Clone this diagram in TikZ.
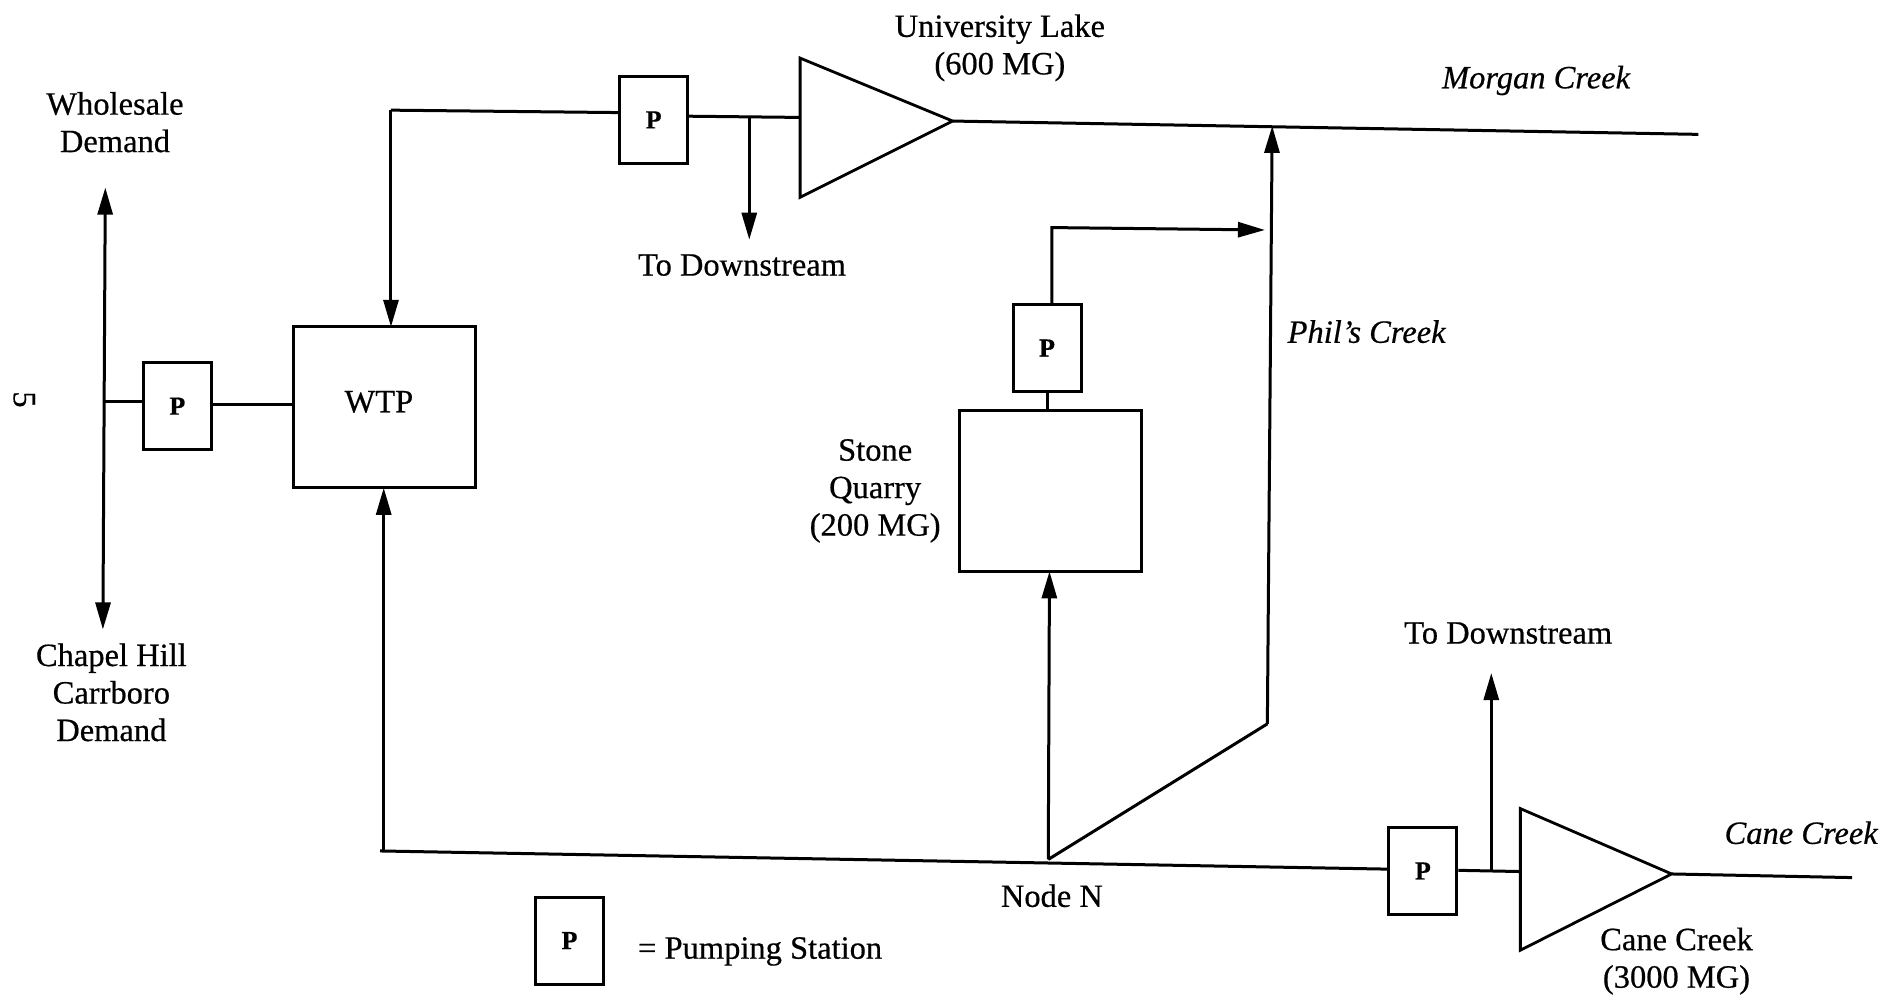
\documentclass[tikz,border=0pt]{standalone}
\usepackage{fontspec}
\setmainfont{Liberation Serif}[FakeBold=0.5]
\usetikzlibrary{arrows.meta}
\tikzset{
  every node/.style={font=\fontsize{32.5}{37.5}\selectfont, align=center, inner sep=0pt},
  ln/.style={draw=black, line width=3pt},
  arr/.style={ln, -{Triangle[length=27pt,width=15pt]}},
  darr/.style={ln, {Triangle[length=27pt,width=15pt]}-{Triangle[length=27pt,width=15pt]}},
  pump/.style={draw=black, line width=3pt, minimum width=68pt, minimum height=87pt, font=\fontsize{26}{30}\selectfont\bfseries},
  bigbox/.style={draw=black, line width=3pt, minimum width=182pt, minimum height=161pt},
  res/.style={draw=black, line width=2.8pt, line join=miter},
  creek/.style={font=\fontsize{32.5}{37.5}\selectfont\itshape}
}
\begin{document}
\begin{tikzpicture}[x=1.2105pt,y=-1.2105pt]
\useasboundingbox (0,0) rectangle (1568,825);
\fill[white] (0,0) rectangle (1568,825);
% boxes
\node[pump] (p1) at (540,99) {P};
\node[pump] (p2) at (146.5,335.5) {P};
\node[pump] (p3) at (865,287.5) {P};
\node[pump] (p4) at (1175.5,719.5) {P};
\node[pump] (pl) at (470.5,777) {P};
\node[bigbox] (wtp) at (317.5,336.5) {};
\node (wtpl) at (313,332) {WTP};
\node[bigbox] (sq) at (868,406) {};
% reservoirs
\coordinate (ul1) at (661,48); \coordinate (ul2) at (661,163); \coordinate (ult) at (787,100);
\coordinate (cl1) at (1256,668); \coordinate (cl2) at (1256,785); \coordinate (clt) at (1381,722);
\draw[res] (ul1) -- (ul2) -- (ult) -- cycle;
\draw[res] (cl1) -- (cl2) -- (clt) -- cycle;
% junction coordinates
\coordinate (mend) at (1403,111);
\coordinate (mj) at (1051,104);
\coordinate (tl) at (323,91);
\coordinate (wa) at (323,270);
\coordinate (dj) at (619,97);
\coordinate (dd) at (619,198);
\coordinate (bl) at (314,703);
\coordinate (bj) at (317,703);
\coordinate (wb) at (317,403);
\coordinate (nn) at (866,710);
\coordinate (sb) at (867,472);
\coordinate (kink) at (1047,598);
\coordinate (qt) at (869,188);
\coordinate (qa) at (1045,190);
\coordinate (cj) at (1232,719);
\coordinate (cu) at (1232,556);
\coordinate (cend) at (1530,725);
\coordinate (dt) at (87,155);
\coordinate (db) at (85,520);
\coordinate (dm) at (87,332);
% connectors
\draw[ln] (ult) -- (mend);
\draw[arr] (kink) -- (mj);
\draw[ln] (nn) -- (kink);
\draw[arr] (nn) -- (sb);
\draw[ln] (p1.west |- 0,93) -- (tl);
\draw[arr] (tl) -- (wa);
\draw[ln] (p1.east |- 0,96) -- (661,97);
\draw[arr] (dj) -- (dd);
\draw[ln] (bl) -- (p4.west |- 0,718);
\draw[arr] (bj) -- (wb);
\draw[arr] (p3.north -| qt) -- (qt) -- (qa);
\draw[ln] (p3.south) -- (865,340);
\draw[ln] (p4.east |- 0,719) -- (1256,720);
\draw[arr] (cj) -- (cu);
\draw[ln] (clt) -- (cend);
\draw[darr] (db) -- (dt);
\draw[ln] (dm) -- (p2.west |- 0,332);
\draw[ln] (p2.east |- 0,334) -- (wtp.west |- 0,334);
% labels
\node (t1) at (826,39.5) {University Lake\\(600 MG)};
\node (t2) at (95,101) {Wholesale\\Demand};
\node (t3) at (613,219) {To Downstream};
\node[creek] (t4) at (1269,66.5) {Morgan Creek};
\node[creek] (t5) at (1129,274) {Phil's Creek};
\node (t6) at (723,405.5) {Stone\\Quarry\\(200 MG)};
\node (t7) at (92,572) {Chapel Hill\\Carrboro\\Demand};
\node (t8) at (1246,523) {To Downstream};
\node[creek] (t9) at (1488,688) {Cane Creek};
\node (t10) at (869,740) {Node N};
\node (t11) at (1385,794) {Cane Creek\\(3000 MG)};
\node[anchor=west] (t12) at (527,786) {= Pumping Station};
\node[rotate=-90] (t13) at (20,330) {5};
\end{tikzpicture}
\end{document}
